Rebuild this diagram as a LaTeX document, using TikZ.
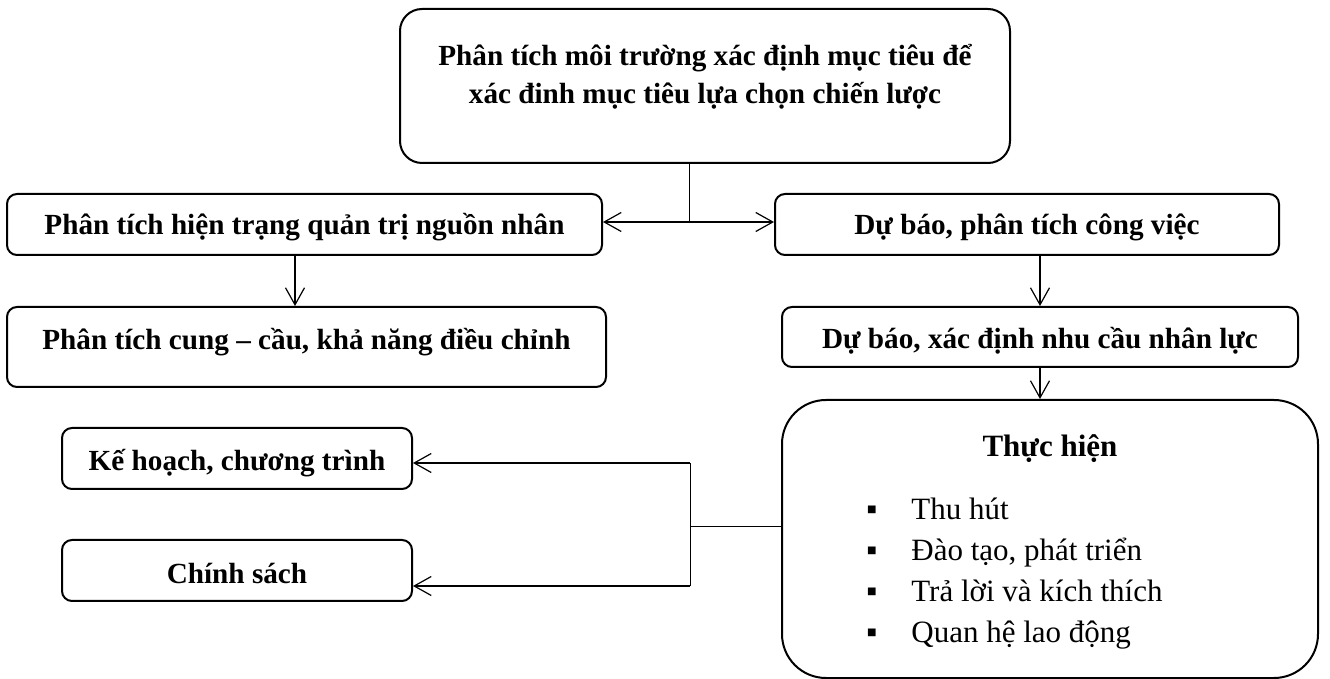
\documentclass[tikz,border=0pt]{standalone}
\usepackage{fontspec}
\setmainfont{Liberation Serif}
\usepackage{tikz}
\usetikzlibrary{arrows.meta}

\begin{document}
\begin{tikzpicture}[
    x=0.5pt, y=-0.5pt,
    box/.style={rectangle, draw, line width=1pt, rounded corners=5pt, inner sep=0pt,
                anchor=base, font=\bfseries\fontsize{14.6}{19}\selectfont},
    >={Straight Barb[length=8.5pt, width=9.5pt]}
]
\useasboundingbox (0,0) rectangle (1330,679);

\node[box, rounded corners=11pt, align=center, minimum width=305pt, text height=47.5pt, text depth=29.5pt] (goal) at (705,104) {Phân tích môi trường xác định mục tiêu để\\xác đinh mục tiêu lựa chọn chiến lược};

\node[box, minimum width=297.5pt, text height=20.5pt, text depth=10pt] (current) at (304.5,235) {Phân tích hiện trạng quản trị nguồn nhân};
\node[box, minimum width=299.5pt, text height=21.5pt, text depth=18.5pt] (analysis) at (306.5,350) {Phân tích cung – cầu, khả năng điều chỉnh};
\node[box, minimum width=252pt, text height=20.5pt, text depth=10pt] (forecast) at (1027,235) {Dự báo, phân tích công việc};
\node[box, minimum width=258pt, text height=21pt, text depth=9pt] (demand) at (1040,349) {Dự báo, xác định nhu cầu nhân lực};
\node[box, minimum width=175pt, text height=21.5pt, text depth=9pt] (plan) at (237,471) {Kế hoạch, chương trình};
\node[box, minimum width=175pt, text height=21.5pt, text depth=9pt] (policy) at (237,583) {Chính sách};

\node[box, rounded corners=22pt, minimum width=268pt, text height=28.5pt, text depth=110.5pt, font=\bfseries\fontsize{15.5}{20.5}\selectfont] (impl) at (1050,457) {Thực hiện};
\node[anchor=base west, align=left, inner sep=0pt, font=\fontsize{15.5}{20.5}\selectfont] (impllist) at (866,642)
    {\makebox[22.5pt][l]{▪}Thu hút\\\makebox[22.5pt][l]{▪}Đào tạo, phát triển\\\makebox[22.5pt][l]{▪}Trả lời và kích thích\\\makebox[22.5pt][l]{▪}Quan hệ lao động};

\coordinate (split) at (689,222);
\coordinate (merge) at (690,526);
\coordinate (toplan) at (690,463);
\coordinate (topolicy) at (690,586);

\draw[thin] (split |- goal.south) -- (split);
\draw[<->, semithick] (split -| current.east) -- (split -| forecast.west);
\draw[->, semithick] ([xshift=-4.75pt]current.south) -- ([xshift=-4.75pt]current.south |- analysis.north);
\draw[->, semithick] ([xshift=6.5pt]forecast.south) -- ([xshift=6.5pt]forecast.south |- demand.north);
\draw[->, semithick] (demand.south) -- (demand.south |- impl.north);

\draw[thin] (merge -| impl.west) -- (merge);
\draw[thin] (toplan) -- (topolicy);
\draw[->, semithick] (toplan) -- (toplan -| plan.east);
\draw[->, semithick] (topolicy) -- (topolicy -| policy.east);
\end{tikzpicture}
\end{document}
